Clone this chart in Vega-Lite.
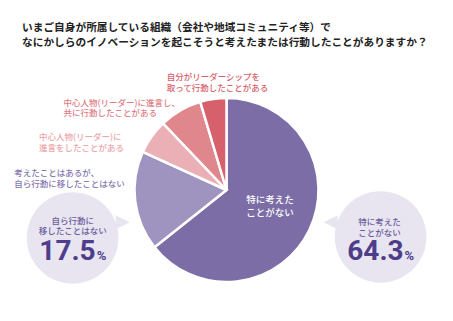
{
  "$schema": "https://vega.github.io/schema/vega-lite/v6.json",
  "width": 453,
  "height": 262,
  "autosize": "none",
  "padding": {"left": 0, "right": 0, "top": 59, "bottom": 0},
  "background": "#ffffff",
  "view": {"stroke": null},
  "title": {
    "text": ["いまご自身が所属している組織（会社や地域コミュニティ等）で", "なにかしらのイノベーションを起こそうと考えたまたは行動したことがありますか？"],
    "anchor": "start",
    "frame": "group",
    "dx": 22,
    "offset": 10,
    "font": "Noto Sans CJK JP",
    "fontSize": 10.7,
    "fontWeight": "bold",
    "color": "#222222",
    "lineHeight": 15
  },
  "data": {
    "values": [
      {"cat": "特に考えたことがない", "value": 64.3, "order": 1, "label": ["特に考えた", "ことがない"], "short": ["特に考えた", "ことがない"]},
      {"cat": "考えたことはあるが、自ら行動に移したことはない", "value": 17.5, "order": 2, "label": ["考えたことはあるが、", "自ら行動に移したことはない"], "short": ["自ら行動に", "移したことはない"]},
      {"cat": "中心人物(リーダー)に進言をしたことがある", "value": 6.1, "order": 3, "label": ["中心人物(リーダー)に", "進言をしたことがある"], "short": []},
      {"cat": "中心人物(リーダー)に進言し、共に行動したことがある", "value": 7.5, "order": 4, "label": ["中心人物(リーダー)に進言し、", "共に行動したことがある"], "short": []},
      {"cat": "自分がリーダーシップを取って行動したことがある", "value": 4.6, "order": 5, "label": ["自分がリーダーシップを", "取って行動したことがある"], "short": []}
    ]
  },
  "encoding": {
    "theta": {"field": "value", "type": "quantitative", "stack": true},
    "order": {"field": "order", "type": "quantitative"}
  },
  "layer": [
    {
      "mark": {"type": "arc", "clip": true, "outerRadius": 92, "stroke": "#ffffff", "strokeWidth": 2.5},
      "encoding": {
        "color": {
          "field": "cat", "type": "nominal", "legend": null,
          "scale": {
            "domain": ["特に考えたことがない", "考えたことはあるが、自ら行動に移したことはない", "中心人物(リーダー)に進言をしたことがある", "中心人物(リーダー)に進言し、共に行動したことがある", "自分がリーダーシップを取って行動したことがある"],
            "range": ["#7C6DA6", "#9F93C0", "#EAB0B5", "#E0878E", "#D6616D"]
          }
        }
      }
    },
    {
      "mark": {"type": "text", "clip": true, "radius": 110, "align": "left", "baseline": "middle", "dx": -44, "dy": -4, "font": "Noto Sans CJK JP", "fontSize": 8.5, "fontWeight": 500, "lineHeight": 10.5, "color": "#D85F6C"},
      "encoding": {"text": {"condition": {"test": "datum.order === 5", "field": "label"}, "value": ""}}
    },
    {
      "mark": {"type": "text", "clip": true, "radius": 110, "align": "left", "baseline": "middle", "dx": -108, "dy": 8, "font": "Noto Sans CJK JP", "fontSize": 8.5, "fontWeight": 500, "lineHeight": 10.5, "color": "#E07D86"},
      "encoding": {"text": {"condition": {"test": "datum.order === 4", "field": "label"}, "value": ""}}
    },
    {
      "mark": {"type": "text", "clip": true, "radius": 110, "align": "left", "baseline": "middle", "dx": -98, "dy": 11, "font": "Noto Sans CJK JP", "fontSize": 8.5, "fontWeight": 500, "lineHeight": 10.5, "color": "#ECA6AC"},
      "encoding": {"text": {"condition": {"test": "datum.order === 3", "field": "label"}, "value": ""}}
    },
    {
      "mark": {"type": "text", "clip": true, "radius": 110, "align": "left", "baseline": "middle", "dx": -103, "dy": -30, "font": "Noto Sans CJK JP", "fontSize": 8.5, "fontWeight": 500, "lineHeight": 10.5, "color": "#8577B0"},
      "encoding": {"text": {"condition": {"test": "datum.order === 2", "field": "label"}, "value": ""}}
    },
    {
      "mark": {"type": "text", "clip": true, "radius": 45, "align": "center", "baseline": "middle", "dx": 3, "dy": -10, "font": "Noto Sans CJK JP", "fontSize": 9.5, "fontWeight": 500, "lineHeight": 13, "color": "#ffffff"},
      "encoding": {"text": {"condition": {"test": "datum.order === 1", "field": "label"}, "value": ""}}
    },
    {
      "mark": {"type": "text", "clip": true, "radius": 160, "align": "center", "baseline": "middle", "dx": 10, "dy": -27, "font": "DejaVu Sans", "fontSize": 120, "color": "#E8E5F0"},
      "encoding": {"text": {"condition": {"test": "datum.order === 1", "value": "●"}, "value": ""}}
    },
    {
      "mark": {"type": "text", "clip": true, "radius": 160, "align": "center", "baseline": "middle", "dx": -40, "dy": -37, "font": "DejaVu Sans", "fontSize": 18, "color": "#E8E5F0"},
      "encoding": {"text": {"condition": {"test": "datum.order === 1", "value": "◀"}, "value": ""}}
    },
    {
      "mark": {"type": "text", "clip": true, "radius": 160, "align": "center", "baseline": "middle", "dx": 5, "dy": 23.5, "font": "DejaVu Sans", "fontSize": 120, "color": "#E8E5F0"},
      "encoding": {"text": {"condition": {"test": "datum.order === 2", "value": "●"}, "value": ""}}
    },
    {
      "mark": {"type": "text", "clip": true, "radius": 160, "align": "center", "baseline": "middle", "dx": 55, "dy": 12.5, "font": "DejaVu Sans", "fontSize": 18, "color": "#E8E5F0"},
      "encoding": {"text": {"condition": {"test": "datum.order === 2", "value": "▶"}, "value": ""}}
    },
    {
      "mark": {"type": "text", "clip": true, "radius": 160, "align": "center", "baseline": "middle", "dx": 9, "dy": -37, "font": "Noto Sans CJK JP", "fontSize": 8.5, "fontWeight": 500, "lineHeight": 10.5, "color": "#6B5C9E"},
      "encoding": {"text": {"condition": {"test": "datum.order === 1", "field": "short"}, "value": ""}}
    },
    {
      "mark": {"type": "text", "clip": true, "radius": 160, "align": "center", "baseline": "middle", "dx": 5, "dy": 11, "font": "Noto Sans CJK JP", "fontSize": 8.5, "fontWeight": 500, "lineHeight": 10.5, "color": "#6B5C9E"},
      "encoding": {"text": {"condition": {"test": "datum.order === 2", "field": "short"}, "value": ""}}
    },
    {
      "mark": {"type": "text", "clip": true, "radius": 160, "align": "right", "baseline": "alphabetic", "dx": 33, "dy": 0.6, "font": "Roboto", "fontSize": 28, "fontWeight": "bold", "color": "#4D3D8A"},
      "encoding": {"text": {"condition": {"test": "datum.order === 1", "field": "value", "format": ".1f"}, "value": ""}}
    },
    {
      "mark": {"type": "text", "clip": true, "radius": 160, "align": "left", "baseline": "alphabetic", "dx": 34, "dy": 0.6, "font": "Roboto", "fontSize": 13, "fontWeight": "bold", "color": "#4D3D8A"},
      "encoding": {"text": {"condition": {"test": "datum.order === 1", "value": "%"}, "value": ""}}
    },
    {
      "mark": {"type": "text", "clip": true, "radius": 160, "align": "right", "baseline": "alphabetic", "dx": 28, "dy": 50.5, "font": "Roboto", "fontSize": 28, "fontWeight": "bold", "color": "#4D3D8A"},
      "encoding": {"text": {"condition": {"test": "datum.order === 2", "field": "value", "format": ".1f"}, "value": ""}}
    },
    {
      "mark": {"type": "text", "clip": true, "radius": 160, "align": "left", "baseline": "alphabetic", "dx": 29, "dy": 50.5, "font": "Roboto", "fontSize": 13, "fontWeight": "bold", "color": "#4D3D8A"},
      "encoding": {"text": {"condition": {"test": "datum.order === 2", "value": "%"}, "value": ""}}
    }
  ]
}
